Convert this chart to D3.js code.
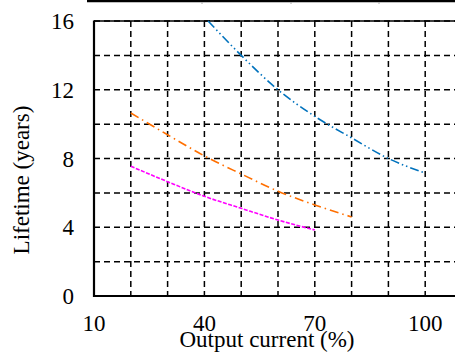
<!DOCTYPE html>
<html><head><meta charset="utf-8">
<script src="https://cdn.jsdelivr.net/npm/d3@7"></script>
<style>body{margin:0;background:#fff}svg{display:block}text{font-family:"Liberation Serif","Times New Roman",serif}</style>
</head><body><svg id="c" width="455" height="354"></svg>
<script>
const xTicks = [10, 40, 70, 100];
const yTicks = [0, 4, 8, 12, 16];
const xGrid = [20, 30, 40, 50, 60, 70, 80, 90, 100, 110];
const yGrid = [2, 4, 6, 8, 10, 12, 14, 16];
const blueX = [41, 50, 60, 70, 80, 90, 100];
const blueY = [16.0, 14.0, 12.0, 10.45, 9.2, 8.0, 7.15];
const orangeX = [20, 30, 40, 50, 60, 70, 80];
const orangeY = [10.65, 9.38, 8.15, 7.1, 6.1, 5.3, 4.6];
const magentaX = [20, 30, 40, 50, 60, 70];
const magentaY = [7.55, 6.65, 5.8, 5.1, 4.42, 3.84];
const xTitle = "Output current (%)";
const yTitle = "Lifetime (years)";

const svg = d3.select("#c");
const x = d3.scaleLinear().domain([10, 110]).range([94, 462]);
const y = d3.scaleLinear().domain([0, 16]).range([296, 21]);
const FS = 23;

// top border from chart above
svg.append("line").attr("x1", 87).attr("x2", 455).attr("y1", 1).attr("y2", 1)
  .attr("stroke", "#000").attr("stroke-width", 2.5);
[202, 291, 379].forEach(px => svg.append("line").attr("x1", px).attr("x2", px).attr("y1", 2).attr("y2", 4).attr("stroke", "#aaa").attr("stroke-width", 1));

const g = svg.append("g");
// grid
g.selectAll(".vg").data(xGrid).join("line")
  .attr("x1", d => x(d)).attr("x2", d => x(d)).attr("y1", y(16)).attr("y2", y(0))
  .attr("stroke", "#000").attr("stroke-width", 1.5).attr("stroke-dasharray", "6,4");
g.selectAll(".hg").data(yGrid).join("line")
  .attr("x1", x(10)).attr("x2", 455).attr("y1", d => y(d)).attr("y2", d => y(d))
  .attr("stroke", "#000").attr("stroke-width", 1.5).attr("stroke-dasharray", "6,4");

// axes lines
g.append("line").attr("x1", x(10)).attr("x2", 455).attr("y1", y(16)).attr("y2", y(16)).attr("stroke", "#000").attr("stroke-width", 1.3);
g.append("line").attr("x1", x(10)).attr("x2", 455).attr("y1", y(0)).attr("y2", y(0)).attr("stroke", "#000").attr("stroke-width", 2.2);
g.append("line").attr("x1", x(10)).attr("x2", x(10)).attr("y1", y(16) - 0.6).attr("y2", y(0) + 1).attr("stroke", "#000").attr("stroke-width", 2.2);

// tick labels
svg.selectAll(".xt").data(xTicks).join("text")
  .attr("x", d => x(d)).attr("y", 331).attr("text-anchor", "middle")
  .attr("font-size", FS).attr("fill", "#000").text(d => d);
svg.selectAll(".yt").data(yTicks).join("text")
  .attr("x", 74).attr("y", d => y(d)).attr("dy", "0.35em").attr("text-anchor", "end")
  .attr("font-size", FS).attr("fill", "#000").text(d => d);

// titles
svg.append("text").attr("x", 267).attr("y", 347).attr("text-anchor", "middle")
  .attr("font-size", FS).attr("fill", "#000").text(xTitle);
svg.append("text").attr("transform", "translate(29,180) rotate(-90)").attr("text-anchor", "middle")
  .attr("font-size", FS).attr("fill", "#000").text(yTitle);

// series
const line = d3.line().x(d => x(d[0])).y(d => y(d[1])).curve(d3.curveMonotoneX);
const series = [
  {xs: blueX, ys: blueY, color: "#0072BD", dash: "9,3,1.5,3,1.5,3"},
  {xs: orangeX, ys: orangeY, color: "#FF6F00", dash: "9,4,1.5,4"},
  {xs: magentaX, ys: magentaY, color: "#FF00FF", dash: "4,1.5"}
];
series.forEach(s => {
  svg.append("path").datum(s.xs.map((v, i) => [v, s.ys[i]]))
    .attr("d", line).attr("fill", "none").attr("stroke", s.color)
    .attr("stroke-width", 1.6).attr("stroke-dasharray", s.dash);
});
</script></body></html>
